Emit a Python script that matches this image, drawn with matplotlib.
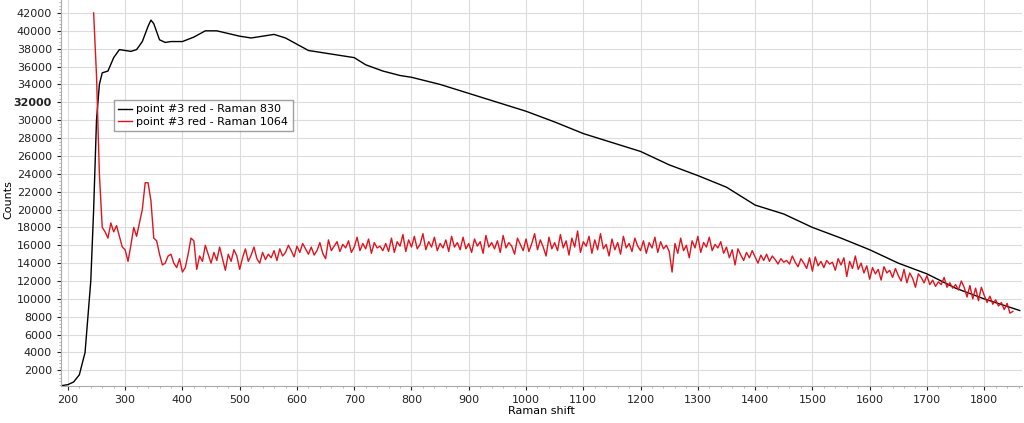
import numpy as np
import matplotlib
matplotlib.use("Agg")
import matplotlib.pyplot as plt
from matplotlib.ticker import MultipleLocator

black_x = [190,200,210,220,230,240,245,250,255,260,270,280,290,300,310,320,330,340,345,350,360,370,380,400,420,440,460,480,500,520,540,560,580,600,620,650,680,700,720,750,780,800,850,900,950,1000,1050,1100,1150,1200,1250,1300,1350,1400,1450,1500,1550,1600,1650,1700,1750,1800,1862]
black_y = [300,400,700,1500,4000,12000,20000,30000,34000,35300,35500,37000,37900,37800,37700,37900,38800,40500,41200,40800,39000,38700,38800,38800,39300,40000,40000,39700,39400,39200,39400,39600,39200,38500,37800,37500,37200,37000,36200,35500,35000,34800,34000,33000,32000,31000,29800,28500,27500,26500,25000,23800,22500,20500,19500,18000,16800,15500,14000,12800,11200,10000,8700]

red_head_x = [245,250,255,260,265,270,275,280,285,290,295,300,305,310,315,320,325,330,335,340,345,350,355,360,365,370,375,380,385,390,395,400,405,410,415,420,425,430,435,440,445]
red_head_y = [42000,35000,24000,18000,17500,16800,18500,17500,18200,17000,15800,15500,14200,16000,18000,17000,18500,20000,23000,23000,21000,16800,16500,15000,13800,14000,14800,15000,14000,13500,14500,13000,13500,15000,16800,16500,13300,14800,14200,16000,15000]
red_tail_y = [
14000,15200,14300,15800,14500,13200,15000,14200,15500,14800,13300,14600,15600,14200,14900,15800,14500,14000,15200,14400,
15000,14600,15400,14300,15600,14800,15200,16000,15400,14700,15900,15200,16200,15600,15000,15800,14900,15400,16300,15100,
14500,16600,15400,15900,16400,15300,16100,15700,16500,15200,15800,16900,15400,16200,15600,16700,15100,16300,15700,15900,
15400,16200,15300,16800,15200,16400,15900,17200,15300,16600,15800,17000,15600,16100,17300,15500,16400,15800,16900,15400,
16200,15700,16600,15300,17000,15800,16300,15500,16900,15600,16200,15200,16700,15900,16400,15100,17100,15800,16300,15600,
16500,15200,17100,15700,16300,15900,15000,16800,16100,15400,16700,15300,16200,17300,15500,16600,15800,14800,16900,15600,
16300,15400,17200,15700,16500,14900,16800,15800,17600,15200,16400,15900,17000,15100,16600,15500,17300,15600,16100,14800,
16700,15500,16300,15000,17000,15700,16200,15300,16800,15900,15400,16500,15100,16300,15700,16900,15200,16400,15600,16000,
15300,13000,16200,15100,16800,15400,16000,14600,16500,15700,17000,15200,16300,15800,16900,15400,16100,15700,16400,15100,
15800,14600,15500,13800,15600,14900,14300,15200,14600,15400,14700,14000,14900,14300,15000,14200,14800,14400,13900,14500,
14100,14300,13900,14800,14100,13600,14500,14000,13400,14600,13100,14700,13700,14200,13500,14300,13900,14100,13200,14500,
13800,14600,12500,14200,13400,14800,13300,14000,12900,13700,12200,13500,12800,13300,12100,13600,12900,13200,12400,13400,
12600,12000,13300,11800,12900,12300,11300,12800,12400,11800,12600,11600,12100,11400,11900,11600,12400,11300,11800,11200,
11600,11000,12000,11300,10200,11500,10000,11200,9800,11300,10400,9600,10300,9400,9900,9200,9600,8800,9500,8400,
8600]
red_tail_x = list(range(450, 450 + 5 * len(red_tail_y), 5))
red_x = red_head_x + red_tail_x
red_y = red_head_y + red_tail_y

fig = plt.figure(figsize=(10.24, 4.23), dpi=100)
ax = fig.add_axes([61/1024, 1 - 386/423, (1022-61)/1024, 386/423])
ax.plot(black_x, black_y, color="black", lw=1.0, label="point #3 red - Raman 830")
ax.plot(red_x, red_y, color="#e0141e", lw=1.0, label="point #3 red - Raman 1064")
ax.set_xlim(188, 1866)
ax.set_ylim(250, 43450)
ax.xaxis.set_major_locator(MultipleLocator(100))
ax.xaxis.set_minor_locator(MultipleLocator(20))
ax.yaxis.set_major_locator(MultipleLocator(2000))
ax.yaxis.set_minor_locator(MultipleLocator(400))
ax.grid(True, which="major", color="#dcdcdc", lw=0.8)
ax.set_axisbelow(True)
for s in ["top", "right"]:
    ax.spines[s].set_visible(False)
for s in ["left", "bottom"]:
    ax.spines[s].set_color("#aaaaaa")
ax.tick_params(labelsize=8, colors="#222222", length=3)
ax.tick_params(which="minor", length=1.5, color="#aaaaaa")
ax.set_yticks(np.arange(2000, 42001, 2000))
ax.set_yticklabels([f"{v}" for v in range(2000, 42001, 2000)])
for t in ax.get_yticklabels():
    if t.get_text() == "32000":
        t.set_fontweight("bold")
ax.set_xlabel("Raman shift", fontsize=8, labelpad=1)
fig.text(8/1024, 1 - 200/423, "Counts", fontsize=8, rotation=90, ha="center", va="center")
leg = ax.legend(loc="upper left", bbox_to_anchor=((114-61)/961, 1 - 100/386), fontsize=8,
                frameon=True, fancybox=False, edgecolor="#888888", borderpad=0.4,
                handlelength=1.2, handletextpad=0.4, labelspacing=0.2, borderaxespad=0)
fig.savefig("out.png", dpi=100)
